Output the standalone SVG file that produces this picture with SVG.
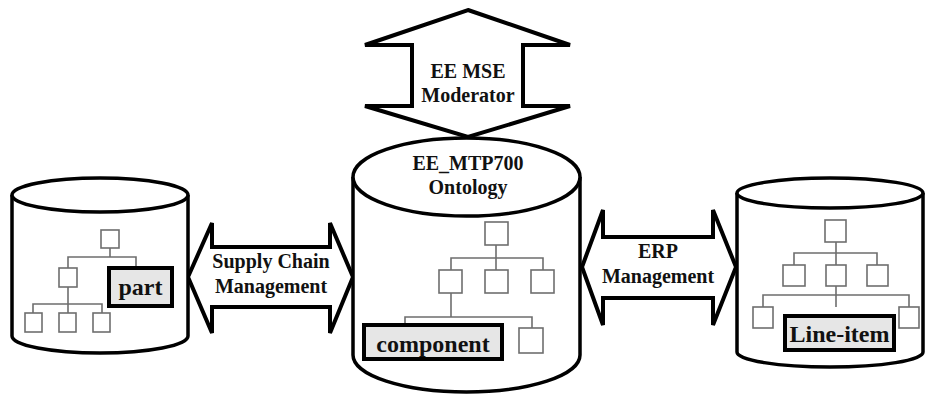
<svg xmlns="http://www.w3.org/2000/svg" width="925" height="397" viewBox="0 0 925 397">
<style>
.cyl{fill:#fff;stroke:#000;stroke-width:3.5}
.arr{fill:#fff;stroke:#000;stroke-width:4;stroke-linejoin:miter}
.t{font-family:"Liberation Serif","Times New Roman",serif;font-weight:bold;fill:#111;text-anchor:middle}
.ln{fill:none;stroke:#6e6e6e;stroke-width:1.6}
.bx{fill:#fff;stroke:#6e6e6e;stroke-width:1.6}
.lbl{fill:#e6e6e6;stroke:#000;stroke-width:4}
</style>
<rect width="925" height="397" fill="#fff"/>
<g id="connectors">
<polygon class="arr" points="468,10 570,45 523,45 523,106 570,106 468,137 365,106 412,106 412,45 365,45"/>
<text class="t" x="468" y="78" font-size="20">EE MSE</text>
<text class="t" x="468" y="102" font-size="20">Moderator</text>
<polygon class="arr" points="188,277 212,223 212,247 330,247 330,223 353,277 330,333 330,307 212,307 212,333"/>
<text class="t" x="271" y="268" font-size="20">Supply Chain</text>
<text class="t" x="271" y="293" font-size="20">Management</text>
<polygon class="arr" points="582,267 603,210 603,237 713,237 713,210 736,267 713,325 713,298 603,298 603,325"/>
<text class="t" x="658" y="258" font-size="20">ERP</text>
<text class="t" x="658" y="283" font-size="20">Management</text>
</g>
<g id="left-db">
<path class="cyl" d="M12,195 L12,336 A88,17 0 0 0 188,336 L188,195"/>
<ellipse class="cyl" cx="100" cy="195" rx="88" ry="17"/>
<path class="ln" d="M110,248 V257 M68,268 V257 H136 V267 M68,287 V304 M33,313 V304 H102 V313 M68,304 V313"/>
<rect class="bx" x="101" y="230" width="18" height="18"/>
<rect class="bx" x="59" y="268" width="18" height="19"/>
<rect class="bx" x="25" y="313" width="17" height="19"/>
<rect class="bx" x="59" y="313" width="17" height="19"/>
<rect class="bx" x="93" y="313" width="17" height="19"/>
<rect class="lbl" x="109" y="268" width="63" height="38"/>
<text class="t" x="140.5" y="295" font-size="24">part</text>
</g>
<g id="center-db">
<path class="cyl" d="M353,177 L353,355 A113.5,37 0 0 0 580,355 L580,177"/>
<ellipse class="cyl" cx="466.5" cy="177" rx="113.5" ry="39"/>
<text class="t" x="468" y="170" font-size="20">EE_MTP700</text>
<text class="t" x="468" y="194" font-size="20">Ontology</text>
<path class="ln" d="M496,245 V270 M451,270 V258 H543 V270 M451,293 V317 M405,324 V317 H532 V328"/>
<rect class="bx" x="485" y="222" width="23" height="23"/>
<rect class="bx" x="439" y="270" width="23" height="23"/>
<rect class="bx" x="485" y="270" width="23" height="23"/>
<rect class="bx" x="531" y="270" width="23" height="23"/>
<rect class="bx" x="519" y="328" width="24" height="25"/>
<rect class="lbl" x="364" y="325" width="138" height="34"/>
<text class="t" x="433" y="352" font-size="24">component</text>
</g>
<g id="right-db">
<path class="cyl" d="M737,193 L737,352 A93,15 0 0 0 923,352 L923,193"/>
<ellipse class="cyl" cx="830" cy="193" rx="93" ry="15"/>
<path class="ln" d="M836,242 V307 M794,265 V253 H877 V265 M763,307 V295 H909 V307"/>
<rect class="bx" x="825" y="220" width="21" height="22"/>
<rect class="bx" x="783" y="265" width="22" height="21"/>
<rect class="bx" x="826" y="265" width="20" height="21"/>
<rect class="bx" x="867" y="265" width="21" height="21"/>
<rect class="bx" x="753" y="307" width="20" height="21"/>
<rect class="bx" x="899" y="307" width="20" height="21"/>
<rect class="lbl" x="785" y="316" width="109" height="34"/>
<text class="t" x="839.5" y="342" font-size="24">Line-item</text>
</g>
</svg>
